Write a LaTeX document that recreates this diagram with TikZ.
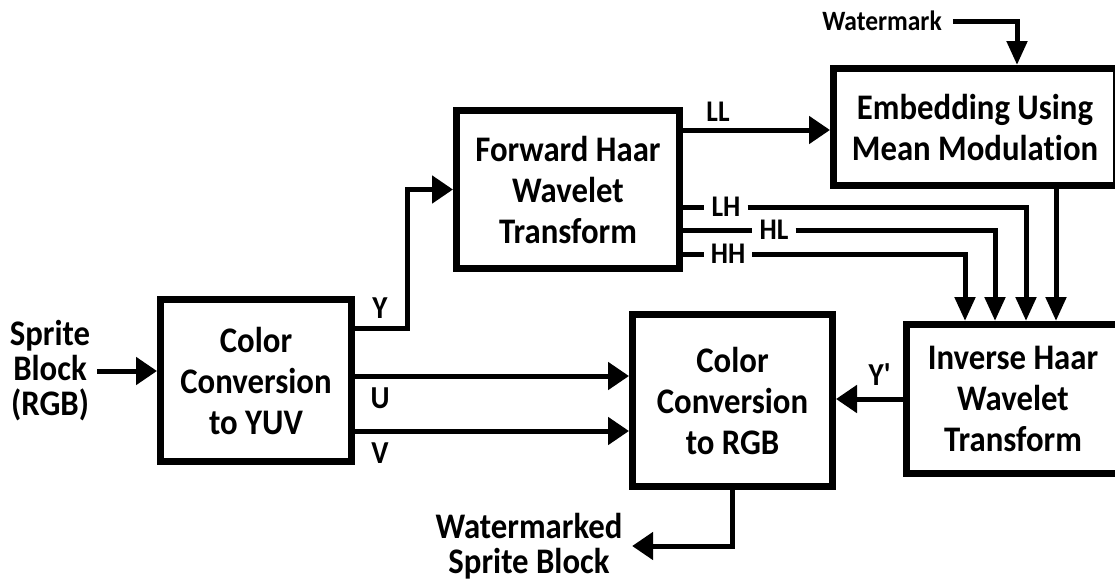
\documentclass[tikz,border=0pt]{standalone}
\usepackage{fontspec}
\setmainfont{Carlito}[FakeStretch=0.91, Ligatures=NoCommon]
\usetikzlibrary{arrows.meta,positioning}

\begin{document}
\begin{tikzpicture}[
    x=1pt, y=-1pt,
    box/.style={draw, line width=7pt, align=center, fill=white, font=\bfseries\fontsize{36}{41}\selectfont},
    txt/.style={align=center, font=\bfseries\fontsize{36}{35}\selectfont},
    lbl/.style={inner sep=0pt, font=\bfseries\fontsize{32}{36}\selectfont},
    band/.style={inner xsep=7pt, inner ysep=1pt, font=\bfseries\fontsize{30}{34}\selectfont},
    link/.style={line width=5pt},
    flow/.style={-{Triangle[length=21pt, width=27pt]}, line width=5pt},
    drop/.style={-{Triangle[length=24pt, width=20pt]}, line width=5pt}
]
\useasboundingbox (0,0) rectangle (1115,581);

% blocks
\node[box, minimum width=191pt, minimum height=162pt] (yuv) at (256,380.5) {Color\\Conversion\\to YUV};
\node[box, minimum width=223pt, minimum height=158pt] (fwd) at (568,189.5) {Forward Haar\\Wavelet\\Transform};
\node[box, minimum width=283pt, minimum height=117pt, right=147pt of fwd, yshift=62.5pt] (embed) {Embedding Using\\Mean Modulation};
\node[box, minimum width=200pt, minimum height=172pt, right=274pt of yuv, yshift=-20pt] (rgb) {Color\\Conversion\\to RGB};
\node[box, minimum width=213pt, minimum height=149pt, right=67pt of rgb, yshift=1.5pt] (inv) {Inverse Haar\\Wavelet\\Transform};

% inputs and outputs
\node[txt, inner xsep=7pt] (src) at (50,371) {Sprite\\Block\\(RGB)};
\node[font=\bfseries\fontsize{28}{32}\selectfont, inner xsep=11pt] (wm) at (882,21) {Watermark};
\node[txt, inner xsep=9.5pt] (out) at (529,546) {Watermarked\\Sprite Block};

% signal labels
\node[lbl] (ylbl) at (380,308) {Y};
\node[lbl] (ulbl) at (380,398) {U};
\node[lbl] (vlbl) at (380,453) {V};
\node[lbl] (yplbl) at (880,375) {Y\textquotesingle};
\node[band, inner sep=0pt] (lllbl) at (718,112) {LL};
\node[band] (lh) at (726,207) {LH};
\node[band] (hl) at (774,230) {HL};
\node[band] (hh) at (728,254) {HH};

\coordinate (yout) at ([yshift=52.5pt]yuv.east);
\coordinate (uout) at ([yshift=4.5pt]yuv.east);
\coordinate (vout) at ([yshift=-50.5pt]yuv.east);
\coordinate (llout) at ([yshift=59.5pt]fwd.east);

\draw[flow] (src.east) -- (src.east -| yuv.west);
\draw[flow] (yout) -- ++(52,0) |- (fwd.west);
\draw[flow] (uout) -- (uout -| rgb.west);
\draw[flow] (vout) -- (vout -| rgb.west);
\draw[flow] (llout) -- (llout -| embed.west);
\draw[drop] (wm.east) -| ([xshift=42pt]embed.north);

% sub-bands to the inverse transform
\draw[link] (lh.west -| fwd.east) -- (lh.west);
\draw[link] (hl.west -| fwd.east) -- (hl.west);
\draw[link] (hh.west -| fwd.east) -- (hh.west);
\draw[drop] (lh.east) -| ([xshift=13pt]inv.north);
\draw[drop] (hl.east) -| ([xshift=-18pt]inv.north);
\draw[drop] (hh.east) -| ([xshift=-48pt]inv.north);
\draw[drop] ([xshift=81pt]embed.south) -- ([xshift=43pt]inv.north);

\draw[flow] (inv.west) -- (inv.west -| rgb.east);
\draw[flow] (rgb.south) |- (out.east);
\end{tikzpicture}
\end{document}
